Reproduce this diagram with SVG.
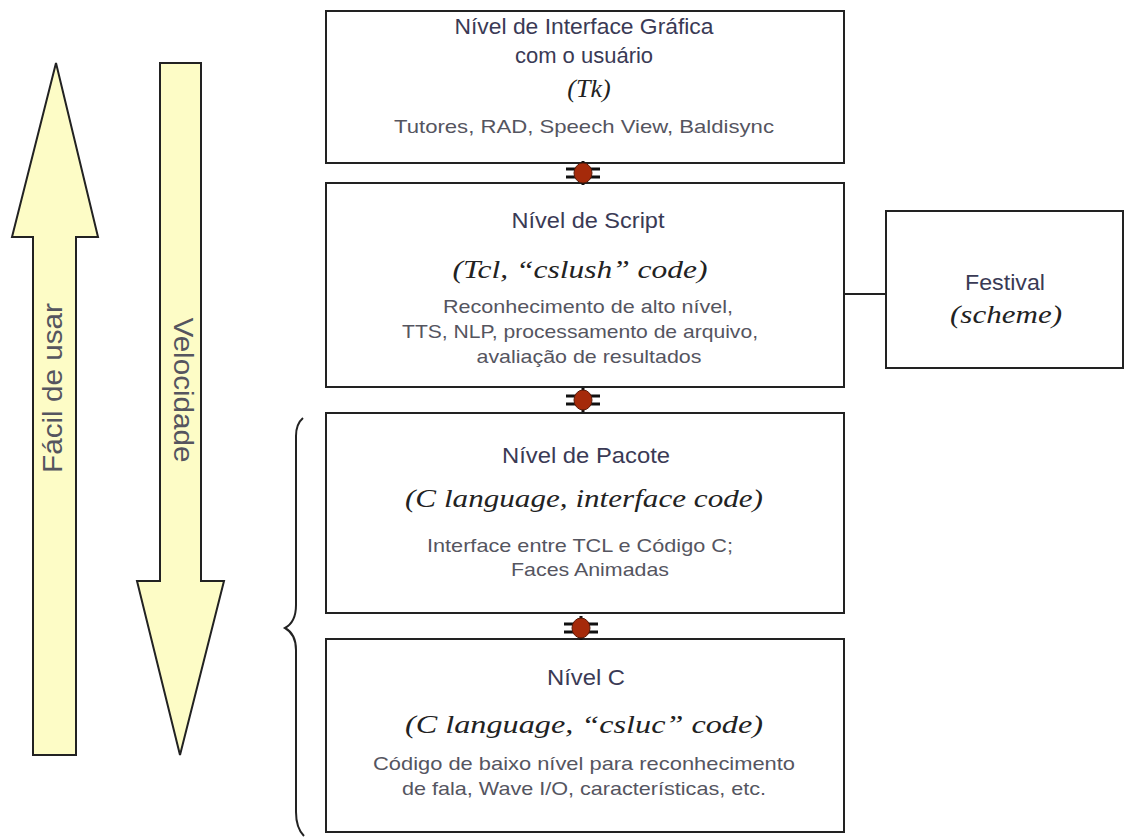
<svg xmlns="http://www.w3.org/2000/svg" width="1125" height="837" viewBox="0 0 1125 837">
<defs>
<style>
.box{fill:#fff;stroke:#222;stroke-width:2}
.arr{fill:#fdfcc6;stroke:#222;stroke-width:2;stroke-linejoin:miter}
.t{font-family:"Liberation Sans",Arial,sans-serif;font-size:22px;fill:#3a3a55;text-anchor:middle}
.s{font-family:"Liberation Sans",Arial,sans-serif;font-size:19px;fill:#55555f;text-anchor:middle}
.i{font-family:"Liberation Serif","Times New Roman",serif;font-style:italic;font-size:26px;fill:#222;text-anchor:middle}
.v{font-family:"Liberation Sans",Arial,sans-serif;font-size:27px;fill:#55555f;text-anchor:middle}
.ln{fill:none;stroke:#222;stroke-width:2}
</style>
<g id="bug">
<line x1="-17" y1="-4" x2="17" y2="-4" stroke="#111" stroke-width="3"/>
<line x1="-17" y1="4" x2="17" y2="4" stroke="#111" stroke-width="3"/>
<line x1="0" y1="-12" x2="0" y2="12" stroke="#111" stroke-width="3"/>
<ellipse cx="0" cy="0" rx="9" ry="10" fill="#a52a0a" stroke="#5a1a08" stroke-width="1"/>
</g>
</defs>
<rect width="1125" height="837" fill="#fff"/>

<g id="arrow-easy">
<polygon class="arr" points="56,63 98,237 76,237 76,755 33,755 33,237 12,237"/>
<text class="v" transform="translate(62,388) rotate(-90)" textLength="170" lengthAdjust="spacingAndGlyphs">Fácil de usar</text>
</g>
<g id="arrow-speed">
<polygon class="arr" points="160,63 201,63 201,581 224,581 180,755 137,581 160,581"/>
<text class="v" transform="translate(174,390) rotate(90)" textLength="145" lengthAdjust="spacingAndGlyphs">Velocidade</text>
</g>
<g id="brace">
<path class="ln" d="M303,418 Q296,424 296,436 L296,605 Q296,622 285,628 Q296,634 296,650 L296,812 Q296,828 304,836"/>
</g>

<g id="node-gui">
<rect class="box" x="326" y="11" width="518" height="152"/>
<text class="t" x="584" y="34" textLength="259" lengthAdjust="spacingAndGlyphs">Nível de Interface Gráfica</text>
<text class="t" x="584" y="63">com o usuário</text>
<text class="i" x="589" y="97">(Tk)</text>
<text class="s" x="584" y="133" textLength="380" lengthAdjust="spacingAndGlyphs">Tutores, RAD, Speech View, Baldisync</text>
</g>

<g id="node-script">
<rect class="box" x="326" y="183" width="518" height="204"/>
<text class="t" x="588" y="228" textLength="153" lengthAdjust="spacingAndGlyphs">Nível de Script</text>
<text class="i" x="580" y="278" textLength="255" lengthAdjust="spacingAndGlyphs">(Tcl, “cslush” code)</text>
<text class="s" x="588" y="313" textLength="290" lengthAdjust="spacingAndGlyphs">Reconhecimento de alto nível,</text>
<text class="s" x="580" y="338" textLength="356" lengthAdjust="spacingAndGlyphs">TTS, NLP, processamento de arquivo,</text>
<text class="s" x="589" y="363" textLength="225" lengthAdjust="spacingAndGlyphs">avaliação de resultados</text>
</g>

<g id="node-package">
<rect class="box" x="326" y="413" width="518" height="200"/>
<text class="t" x="586" y="463" textLength="168" lengthAdjust="spacingAndGlyphs">Nível de Pacote</text>
<text class="i" x="584" y="507" textLength="358" lengthAdjust="spacingAndGlyphs">(C language, interface code)</text>
<text class="s" x="580" y="552" textLength="306" lengthAdjust="spacingAndGlyphs">Interface entre TCL e Código C;</text>
<text class="s" x="590" y="576" textLength="158" lengthAdjust="spacingAndGlyphs">Faces Animadas</text>
</g>

<g id="node-c">
<rect class="box" x="326" y="639" width="518" height="193"/>
<text class="t" x="586" y="685" textLength="78" lengthAdjust="spacingAndGlyphs">Nível C</text>
<text class="i" x="584" y="733" textLength="358" lengthAdjust="spacingAndGlyphs">(C language, “csluc” code)</text>
<text class="s" x="584" y="770" textLength="422" lengthAdjust="spacingAndGlyphs">Código de baixo nível para reconhecimento</text>
<text class="s" x="584" y="795" textLength="364" lengthAdjust="spacingAndGlyphs">de fala, Wave I/O, características, etc.</text>
</g>

<g id="node-festival">
<rect class="box" x="886" y="211" width="237" height="157"/>
<text class="t" x="1005" y="290" textLength="80" lengthAdjust="spacingAndGlyphs">Festival</text>
<text class="i" x="1006" y="323" textLength="112" lengthAdjust="spacingAndGlyphs">(scheme)</text>
</g>

<g id="connectors">
<line class="ln" x1="844" y1="294" x2="886" y2="294"/>
<use href="#bug" x="583" y="173"/>
<use href="#bug" x="583" y="400"/>
<use href="#bug" x="581" y="628"/>
</g>
</svg>
